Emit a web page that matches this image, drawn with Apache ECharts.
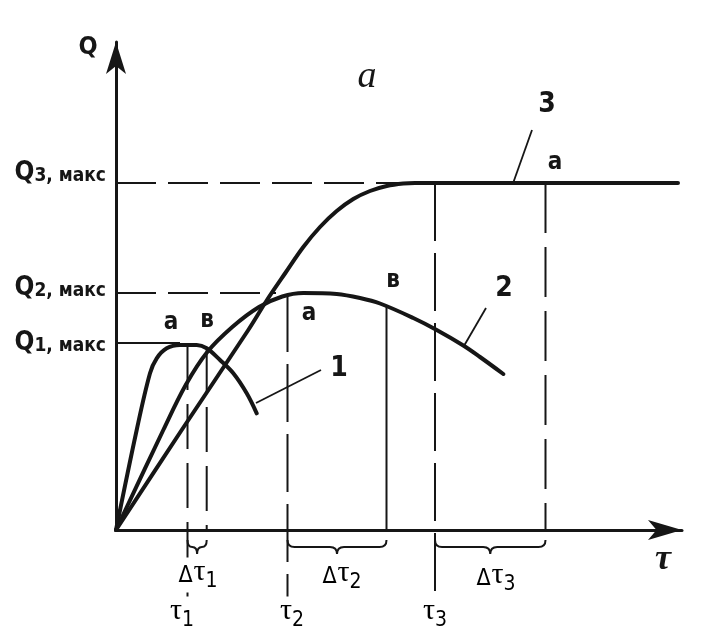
<!DOCTYPE html>
<html><head><meta charset="utf-8">
<script src="https://cdn.jsdelivr.net/npm/echarts@6/dist/echarts.min.js"></script>
<style>html,body{margin:0;padding:0;background:#fff}#c{width:719px;height:644px}</style>
</head><body><div id="c"></div>
<script>
// ---- data (x: time τ, y: Q) ----
const curve1 = [[0,0],[2.07,10.0],[3.4,15.67],[4.07,17.17],[5.07,18.17],[6.4,18.5],[8.07,18.5],[9.07,18.17],[10.4,17.0],[11.73,15.67],[13.07,13.67],[14.07,11.67]];
const curve2 = [[0,0],[4.73,10.0],[6.97,14.5],[9.13,17.8],[11.63,20.3],[14.3,22.3],[16.63,23.35],[18.73,23.7],[22.07,23.6],[24.4,23.2],[26.4,22.65],[29.73,21.2],[32.07,20.0],[34.73,18.45],[36.4,17.3],[38.73,15.6]];
const curve3 = [[0,0],[6.57,10.0],[13.23,20.0],[15.1,23.0],[17.0,25.8],[18.73,28.3],[20.4,30.3],[22.07,31.9],[23.73,33.1],[25.4,33.9],[27.07,34.4],[28.73,34.65],[29.9,34.7],[56.2,34.7]];
const qMax = [18.7, 23.7, 34.7];          // Q1,макс  Q2,макс  Q3,макс
const qMaxReach = [6.4, 16.0, 29.9];      // where each Q-max guide meets its curve
const tauX = [7.15, 17.15, 31.9];         // τ1 τ2 τ3
const tauTop = [18.5, 23.6, 34.7];
const bX = [9.07, 27.05, 42.95];          // end of each plateau (в / a)
const bTop = [18.2, 22.4, 34.7];
const bDash = ['dash', 'solid', 'dash'];
const tauBelow = -7.0;
const leaders = [
  [[20.5,16.0],[14.0,12.7]],
  [[37.0,22.2],[34.85,18.5]],
  [[41.6,40.0],[39.75,34.8]]
];
const annotations = [
  {x:5.5,  y:20.7, t:'a', k:'mark'},
  {x:9.1,  y:20.9, t:'в', k:'mark'},
  {x:19.3, y:21.6, t:'a', k:'mark'},
  {x:27.7, y:24.9, t:'в', k:'mark'},
  {x:43.9, y:36.7, t:'a', k:'mark'},
  {x:22.3, y:16.1, t:'1', k:'num'},
  {x:38.8, y:24.1, t:'2', k:'num'},
  {x:43.1, y:42.5, t:'3', k:'num'},
  {x:25.1, y:45.3, t:'a', k:'title'},
  {x:54.7, y:-3.0, t:'τ', k:'axisTau'},
  {x:8.2,  y:-4.5, t:'{d|Δ}{t|τ}{s|1}', k:'delta'},
  {x:22.6, y:-4.6, t:'{d|Δ}{t|τ}{s|2}', k:'delta'},
  {x:38.0, y:-4.8, t:'{d|Δ}{t|τ}{s|3}', k:'delta'},
  {x:6.6,  y:-8.4, t:'{t|τ}{s|1}', k:'tau'},
  {x:17.6, y:-8.4, t:'{t|τ}{s|2}', k:'tau'},
  {x:31.9, y:-8.4, t:'{t|τ}{s|3}', k:'tau'}
];

const INK = '#161616';
const SANS = "'Liberation Sans Narrow','DejaVu Sans Condensed','Liberation Sans',Arial,sans-serif";
const SERIF = "'Liberation Serif','DejaVu Serif',serif";
const tauRich = {
  d:{fontFamily:SANS, fontSize:23, color:INK, verticalAlign:'bottom', padding:[0,1,5,0]},
  t:{fontFamily:SERIF, fontSize:30, color:INK, verticalAlign:'bottom', padding:[0,0,5,0]},
  s:{fontFamily:SANS, fontSize:21, color:INK, verticalAlign:'bottom'}
};
const styles = {
  mark:{fontFamily:SANS, fontSize:24, fontWeight:'bold', fill:INK},
  num:{fontFamily:SANS, fontSize:28, fontWeight:'bold', fill:INK},
  title:{fontFamily:SERIF, fontSize:38, fontStyle:'italic', fill:INK},
  axisTau:{fontFamily:SERIF, fontSize:36, fontStyle:'italic', fontWeight:'bold', fill:INK},
  delta:{rich:tauRich, backgroundColor:'#fff', padding:[0,2]},
  tau:{rich:tauRich, backgroundColor:'#fff', padding:[0,2]}
};
// vertical nudge (extra empty line height) of each Q-max label, as in the figure
const qLabelLift = [0, 10, 20];

const series = [];
[curve1, curve2, curve3].forEach(c => series.push({
  type:'line', data:c, smooth:0.35, symbol:'none', clip:false, z:5,
  lineStyle:{color:INK, width:4, cap:'round', join:'round'}
}));
qMax.forEach((q,i) => series.push({
  type:'line', data:[[0,q],[qMaxReach[i],q]], symbol:'none', clip:false, z:3,
  lineStyle:{color:INK, width:2, type: i === 0 ? 'solid' : [40,12]}
}));
tauX.forEach((x,i) => series.push({
  type:'line', data:[[x,tauTop[i]],[x,tauBelow]], symbol:'none', clip:false, z:3,
  lineStyle:{color:INK, width:2, type: i === 0 ? [45,14] : [58,12]}
}));
bX.forEach((x,i) => series.push({
  type:'line', data:[[x,bTop[i]],[x,0]], symbol:'none', clip:false, z:3,
  lineStyle:{color:INK, width:2, type: bDash[i] === 'solid' ? 'solid' : (i === 0 ? [45,14] : [50,14])}
}));
leaders.forEach(l => series.push({
  type:'line', data:l, symbol:'none', clip:false, z:4,
  lineStyle:{color:INK, width:1.8}
}));
// braces for Δτ intervals
series.push({
  type:'custom', z:6, clip:false,
  data: tauX.map((x,i) => [x, bX[i]]),
  renderItem(params, api){
    const p1 = api.coord([api.value(0), 0]);
    const p2 = api.coord([api.value(1), 0]);
    const xm = (p1[0] + p2[0]) / 2;
    const y0 = p1[1] + 10, y1 = p1[1] + 17, y2 = p1[1] + 24;
    const r = Math.min(7, (p2[0]-p1[0]) / 4);
    const d = `M${p1[0]} ${y0} Q${p1[0]} ${y1} ${p1[0]+r} ${y1} L${xm-r} ${y1} Q${xm} ${y1} ${xm} ${y2} ` +
              `Q${xm} ${y1} ${xm+r} ${y1} L${p2[0]-r} ${y1} Q${p2[0]} ${y1} ${p2[0]} ${y0}`;
    return {type:'path', shape:{pathData:d}, style:{fill:null, stroke:INK, lineWidth:2}};
  }
});
// text annotations
series.push({
  type:'custom', z:10, clip:false,
  data: annotations.map(a => [a.x, a.y]),
  renderItem(params, api){
    const a = annotations[params.dataIndex];
    const p = api.coord([api.value(0), api.value(1)]);
    return {type:'text', x:p[0], y:p[1], z2:10,
      style:Object.assign({text:a.t, align:'center', verticalAlign:'middle'}, styles[a.k])};
  }
});

const chart = echarts.init(document.getElementById('c'), null, {renderer:'canvas'});
chart.setOption({
  animation:false,
  backgroundColor:'#fff',
  grid:{left:116, right:37, top:42, bottom:114},
  xAxis:{
    type:'value', min:0, max:56.6,
    axisLine:{show:true, onZero:false, symbol:['none','arrow'], symbolSize:[15,34], symbolOffset:[0,0],
      lineStyle:{color:INK, width:3}},
    axisTick:{show:false}, axisLabel:{show:false}, splitLine:{show:false}
  },
  yAxis:{
    type:'value', min:0, max:48.8,
    axisLine:{show:true, onZero:false, symbol:['none','arrow'], symbolSize:[15,32], symbolOffset:[0,0],
      lineStyle:{color:INK, width:3}},
    axisTick:{show:false}, splitLine:{show:false},
    axisLabel:{
      customValues:qMax, margin:10,
      formatter: v => {
        const i = qMax.indexOf(v);
        const base = `{q|Q}{s|${i+1}}{m|, макс}`;
        return qLabelLift[i] ? base + `\n{e${i}|}` : base;
      },
      rich:{
        q:{fontFamily:SANS, fontSize:26, fontWeight:'bold', color:INK, verticalAlign:'bottom'},
        s:{fontFamily:SANS, fontSize:19, fontWeight:'bold', color:INK, verticalAlign:'bottom'},
        m:{fontFamily:SANS, fontSize:19, fontWeight:'bold', color:INK, verticalAlign:'bottom'},
        e1:{fontSize:1, lineHeight:qLabelLift[1]},
        e2:{fontSize:1, lineHeight:qLabelLift[2]}
      }
    },
    name:'Q', nameLocation:'end', nameGap:-5,
    nameTextStyle:{fontFamily:SANS, fontSize:25, fontWeight:'bold', color:INK, align:'center', verticalAlign:'middle', padding:[0,56,0,0]}
  },
  series
});
</script></body></html>
